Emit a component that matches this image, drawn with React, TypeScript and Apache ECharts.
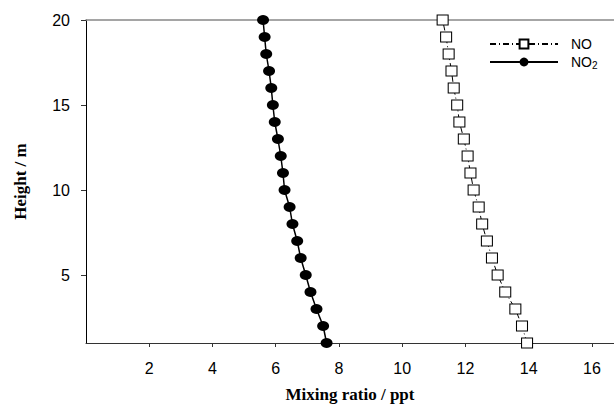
import React, { useEffect, useRef } from 'react';
import * as echarts from 'echarts';

const heights = [1, 2, 3, 4, 5, 6, 7, 8, 9, 10, 11, 12, 13, 14, 15, 16, 17, 18, 19, 20];
const noValues = [13.95, 13.79, 13.58, 13.26, 13.02, 12.84, 12.68, 12.53, 12.42, 12.26, 12.16, 12.07, 11.95, 11.81, 11.74, 11.63, 11.56, 11.47, 11.39, 11.28];
const no2Values = [7.61, 7.5, 7.29, 7.1, 6.95, 6.79, 6.68, 6.53, 6.44, 6.28, 6.23, 6.16, 6.07, 5.97, 5.91, 5.86, 5.79, 5.7, 5.65, 5.6];
const xTicks = [2, 4, 6, 8, 10, 12, 14, 16];
const yTicks = [5, 10, 15, 20];

const SANS = '"Liberation Sans", Arial, sans-serif';
const SERIF = '"Liberation Serif", "Times New Roman", serif';

export default function App() {
  const ref = useRef<HTMLDivElement>(null);
  useEffect(() => {
    document.body.style.margin = '0';
    if (!ref.current) return;
    const chart = echarts.init(ref.current, undefined, { renderer: 'svg' });
    const xMin = 0;
    const xMax = 16.7;
    chart.setOption({
      animation: false,
      backgroundColor: '#fff',
      grid: { left: 86, right: 0, top: 20, bottom: 63, containLabel: false, outerBoundsMode: 'none' },
      legend: {
        orient: 'vertical',
        left: 484,
        top: 32,
        itemWidth: 68,
        itemHeight: 11,
        itemGap: 4,
        data: ['NO', 'NO2'],
        formatter: (name: string) => (name === 'NO2' ? '{n|NO}{s|2}' : '{n|NO}'),
        textStyle: {
          color: '#000',
          padding: [0, 0, 0, 8],
          rich: {
            n: { fontSize: 14, fontFamily: SANS, color: '#000' },
            s: { fontSize: 10, fontFamily: SANS, color: '#000', padding: [7, 0, 0, 0] },
          },
        },
      },
      xAxis: [
        {
          type: 'value',
          min: xMin,
          max: xMax,
          position: 'bottom',
          name: 'Mixing ratio / ppt',
          nameLocation: 'middle',
          nameGap: 43,
          nameTextStyle: { fontFamily: SERIF, fontWeight: 'bold', fontSize: 17, lineHeight: 17, color: '#000' },
          axisLine: { show: true, lineStyle: { color: '#333', width: 1 } },
          axisTick: { show: true, length: 4, customValues: xTicks, lineStyle: { color: '#333' } },
          axisLabel: { customValues: xTicks, margin: 17, fontFamily: SANS, fontSize: 16, color: '#000' },
          splitLine: { show: false },
        },
        {
          type: 'value',
          min: xMin,
          max: xMax,
          position: 'top',
          axisLine: { show: true, lineStyle: { color: '#888', width: 1.5 } },
          axisTick: { show: false },
          axisLabel: { show: false },
          splitLine: { show: false },
        },
      ],
      yAxis: {
        type: 'value',
        min: 1,
        max: 20,
        name: 'Height / m',
        nameLocation: 'middle',
        nameGap: 57,
        nameRotate: 90,
        nameTextStyle: { fontFamily: SERIF, fontWeight: 'bold', fontSize: 17, color: '#000' },
        axisLine: { show: true, lineStyle: { color: '#000', width: 1 } },
        axisTick: { show: true, length: 5, customValues: yTicks, lineStyle: { color: '#333' } },
        axisLabel: { customValues: yTicks, margin: 16, fontFamily: SANS, fontSize: 16, color: '#000' },
        splitLine: { show: false },
      },
      series: [
        {
          name: 'NO',
          type: 'line',
          xAxisIndex: 0,
          data: heights.map((h, i) => [noValues[i], h]),
          symbol: 'rect',
          symbolSize: [11, 10],
          showAllSymbol: true,
          lineStyle: { color: '#000', width: 1, type: [6, 3, 1, 3] },
          itemStyle: { color: '#fff', borderColor: '#000', borderWidth: 1 },
          z: 3,
        },
        {
          name: 'NO2',
          type: 'line',
          xAxisIndex: 0,
          data: heights.map((h, i) => [no2Values[i], h]),
          symbol: 'circle',
          symbolSize: [12, 10],
          showAllSymbol: true,
          lineStyle: { color: '#000', width: 1.5 },
          itemStyle: { color: '#000', borderColor: '#000', borderWidth: 0 },
          z: 3,
        },
      ],
    });
    return () => chart.dispose();
  }, []);
  return <div ref={ref} style={{ width: 614, height: 406 }} />;
}
